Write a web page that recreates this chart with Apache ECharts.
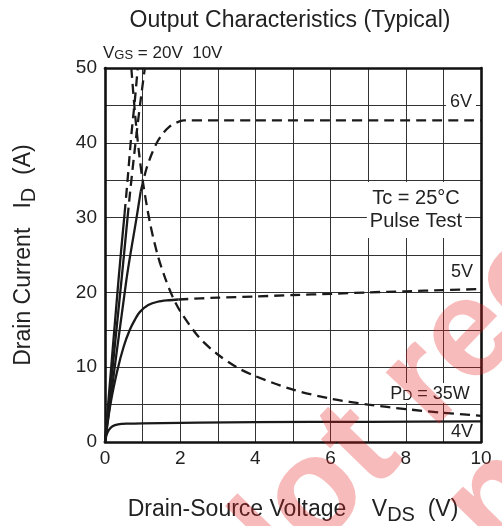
<!DOCTYPE html>
<html><head><meta charset="utf-8">
<script src="https://cdn.jsdelivr.net/npm/echarts@6/dist/echarts.min.js"></script>
<style>html,body{margin:0;padding:0;background:#fff}#c{width:502px;height:526px}</style>
</head><body><div id="c"></div>
<script>
// ---- data (VDS in V, ID in A) ----
const xTicks = [0, 2, 4, 6, 8, 10];
const yTicks = [0, 10, 20, 30, 40, 50];

const vgs4V = [[0,0],[0.04,0.9],[0.1,1.6],[0.2,2.1],[0.35,2.35],[0.6,2.45],[1,2.5],[4,2.65],[7,2.7],[10,2.75]];
const vgs5V = [[0,0],[0.15,5.2],[0.33,9.6],[0.5,12.8],[0.66,15],[0.8,16.4],[0.93,17.4],[1.15,18.3],[1.4,18.75],[1.7,18.95],[1.95,19.05]];
const vgs5VExt = [[1.95,19.05],[3,19.3],[4,19.45],[5,19.65],[6,19.8],[7,20.0],[8,20.15],[9,20.3],[10,20.45]];
const vgs6V = [[0,0],[0.57,21.7],[0.84,30],[0.95,33.5]];
const vgs6VExt = [[0.95,33.5],[1.1,36.5],[1.25,38.6],[1.4,40.2],[1.55,41.3],[1.7,42.1],[1.9,42.7],[2.1,43],[4,43],[10,43]];
const vgs10V = [[0,0],[0.44,21.7],[0.6,30]];
const vgs10VExt = [[0.6,30],[0.68,34],[0.8,39.5],[0.93,45],[1.06,50]];
const vgs20V = [[0,0],[0.36,21.7],[0.52,30.5]];
const vgs20VExt = [[0.52,30.5],[0.6,35],[0.7,41],[0.8,46],[0.87,50]];
const pd35W = [[0.7,50],[0.8,43.8],[0.9,38.9],[1,35],[1.2,29.2],[1.4,25],[1.6,21.9],[1.8,19.4],[2,17.5],[2.5,14],[3,11.7],[3.5,10],[4,8.8],[5,7],[6,5.8],[7,5],[8,4.4],[9,3.9],[10,3.5]];

const FONT = '"Liberation Sans", Arial, Helvetica, sans-serif';
const INK = '#222';
const LINE = '#1a1a1a';

function curve(name, data, dashed) {
  return {
    name: name, type: 'line', data: data, showSymbol: false, symbol: 'none',
    smooth: 0.3, silent: true, z: 5,
    lineStyle: { color: LINE, width: 2.3, type: dashed ? [10, 6] : 'solid', cap: 'butt' }
  };
}

const chart = echarts.init(document.getElementById('c'), null, { renderer: 'canvas' });

const axisNameRich = {
  n: { fontSize: 23, lineHeight: 30, fontFamily: FONT, color: INK },
  s: { fontSize: 20, lineHeight: 18, verticalAlign: 'bottom', fontFamily: FONT, color: INK }
};
const smallRich = (fs) => ({
  n: { fontSize: fs, lineHeight: 20, verticalAlign: 'bottom', fontFamily: FONT, fill: INK, color: INK },
  s: { fontSize: Math.round(fs * 0.76), lineHeight: 17, verticalAlign: 'bottom', fontFamily: FONT, fill: INK, color: INK }
});

const option = {
  animation: false,
  backgroundColor: '#fff',
  grid: { left: 105, right: 21, top: 68, bottom: 84, show: false, outerBoundsMode: 'none', containLabel: false },
  xAxis: [{
    type: 'value', min: 0, max: 10, interval: 1,
    axisLine: { show: true, onZero: false, lineStyle: { color: '#111', width: 2.6 } },
    axisTick: { show: false },
    axisLabel: { fontSize: 19, color: INK, fontFamily: FONT, margin: 7,
      formatter: v => xTicks.indexOf(v) >= 0 ? String(v) : '' },
    splitLine: { show: true, showMinLine: false, showMaxLine: false, lineStyle: { color: '#333', width: 1 } },
    name: '{n|Drain-Source Voltage    V}{s|DS}{n|  (V)}',
    nameLocation: 'middle', nameGap: 53,
    nameTextStyle: { rich: axisNameRich }
  }, {
    type: 'value', position: 'top', min: 0, max: 10, interval: 1,
    axisLine: { show: true, onZero: false, lineStyle: { color: '#111', width: 2.6 } },
    axisTick: { show: false }, axisLabel: { show: false }, splitLine: { show: false }
  }],
  yAxis: [{
    type: 'value', min: 0, max: 50, interval: 5,
    axisLine: { show: true, onZero: false, lineStyle: { color: '#111', width: 2.6 } },
    axisTick: { show: false },
    axisLabel: { fontSize: 19, color: INK, fontFamily: FONT, margin: 8,
      formatter: v => yTicks.indexOf(v) >= 0 ? String(v) : '' },
    splitLine: { show: true, showMinLine: false, showMaxLine: false, lineStyle: { color: '#333', width: 1 } },
    name: '{n|Drain Current   I}{s|D}{n|  (A)}',
    nameLocation: 'middle', nameGap: 66, nameRotate: 90,
    nameTextStyle: { rich: axisNameRich }
  }, {
    type: 'value', position: 'right', min: 0, max: 50, interval: 5,
    axisLine: { show: true, onZero: false, lineStyle: { color: '#111', width: 2.6 } },
    axisTick: { show: false }, axisLabel: { show: false }, splitLine: { show: false }
  }],
  series: [
    curve('4V', vgs4V, false),
    curve('5V', vgs5V, false),
    curve('5V ext', vgs5VExt, true),
    curve('6V', vgs6V, false),
    curve('6V ext', vgs6VExt, true),
    curve('10V', vgs10V, false),
    curve('10V ext', vgs10VExt, true),
    curve('20V', vgs20V, false),
    curve('20V ext', vgs20VExt, true),
    curve('PD = 35W', pd35W, true)
  ],
  graphic: [
    { type: 'text', x: 290, y: 21, z: 3,
      style: { text: 'Output Characteristics (Typical)', font: '23px ' + FONT, fill: INK, align: 'center', verticalAlign: 'middle' } },
    { type: 'text', x: 103, y: 52, z: 3,
      style: { text: '{n|V}{s|GS}{n| = 20V  10V}', rich: smallRich(17), align: 'left', verticalAlign: 'middle' } },
    { type: 'text', x: 461, y: 102, z: 3,
      style: { text: '6V', font: '18px ' + FONT, fill: INK, align: 'center', verticalAlign: 'middle', backgroundColor: '#fff', padding: [1, 4] } },
    { type: 'text', x: 416, y: 210, z: 3,
      style: { text: 'Tc = 25°C\nPulse Test', font: '20px ' + FONT, fill: INK, align: 'center', verticalAlign: 'middle', lineHeight: 23, backgroundColor: '#fff', padding: [5, 3] } },
    { type: 'text', x: 462, y: 272, z: 3,
      style: { text: '5V', font: '18px ' + FONT, fill: INK, align: 'center', verticalAlign: 'middle' } },
    { type: 'text', x: 430, y: 393, z: 3,
      style: { text: '{n|P}{s|D}{n| = 35W}', rich: smallRich(18), align: 'center', verticalAlign: 'middle', backgroundColor: '#fff', padding: [0, 2] } },
    { type: 'text', x: 462, y: 432, z: 3,
      style: { text: '4V', font: '18px ' + FONT, fill: INK, align: 'center', verticalAlign: 'middle', backgroundColor: '#fff', padding: [0, 3] } },
    { type: 'text', x: 215, y: 599, rotation: 0.8, z: 100, silent: true,
      style: { text: 'Not recommended', font: 'bold 140px ' + FONT, fill: 'rgba(232,30,30,0.3)', align: 'left', verticalAlign: 'middle' } },
    { type: 'text', x: 312, y: 693, rotation: 0.8, z: 100, silent: true,
      style: { text: 'for new design', font: 'bold 140px ' + FONT, fill: 'rgba(232,30,30,0.3)', align: 'left', verticalAlign: 'middle' } }
  ]
};
chart.setOption(option);
</script>
</body></html>
